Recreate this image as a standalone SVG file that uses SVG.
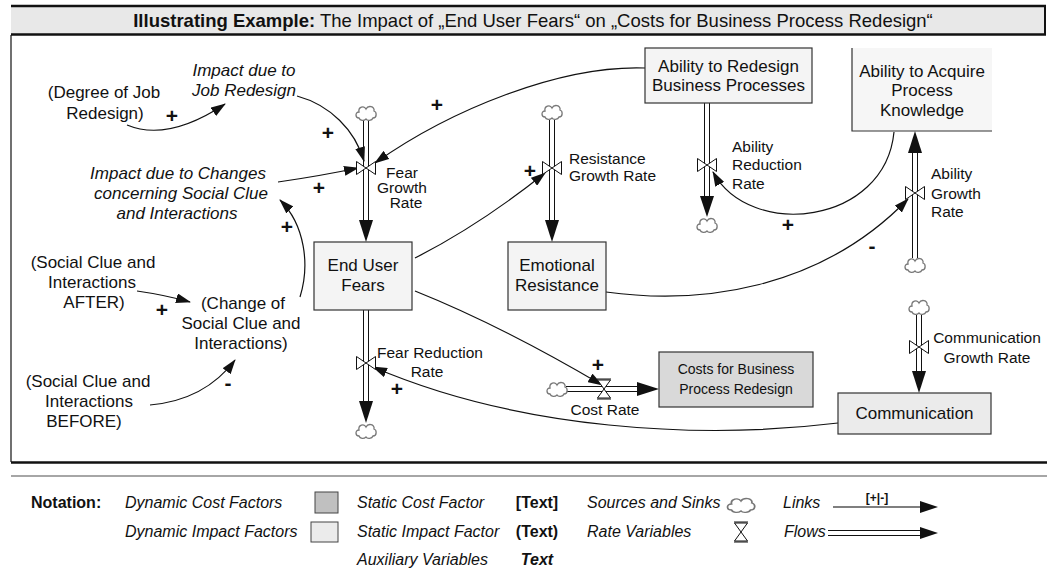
<svg xmlns="http://www.w3.org/2000/svg" width="1047" height="571" viewBox="0 0 1047 571">
<defs>
<style>
text{font-family:"Liberation Sans",Arial,sans-serif;fill:#111}
.lbl{font-size:17px}
.it{font-style:italic}
.rate{font-size:15.5px}
.leg{font-size:16px;font-style:italic}
.b{font-weight:bold}
.sign{font-size:21px;font-weight:bold;text-anchor:middle}
.mid{text-anchor:middle}
.stock{fill:#f4f4f4;stroke:#333;stroke-width:1.2}
.link{fill:none;stroke:#111;stroke-width:1.2;marker-end:url(#la)}
.pipeo{fill:none;stroke:#111;stroke-width:6}
.pipei{fill:none;stroke:#fff;stroke-width:4}
.cloud{fill:#fff;stroke:#777;stroke-width:1.3}
.valve{fill:#fff;stroke:#111;stroke-width:1}
</style>
<marker id="la" viewBox="0 0 15 10" refX="14" refY="5" markerWidth="15" markerHeight="10" markerUnits="userSpaceOnUse" orient="auto">
<path d="M0,0 L15,5 L0,10 z" fill="#111"/>
</marker>
<path id="cl" d="M-7,5 C-11,5 -11,-1 -7,-1 C-8,-6 -2,-8 0,-4 C2,-8 9,-7 8,-2 C11,-1 11,5 7,5 C6,8 1,8 0,6 C-2,8 -6,8 -7,5 Z"/>
<path id="vh" d="M-9.5,-6.5 L0,0 L-9.5,6.5 Z M9.5,-6.5 L0,0 L9.5,6.5 Z"/>
<path id="vv" d="M-6.5,-9 L6.5,-9 L0,0 Z M-6.5,9 L6.5,9 L0,0 Z M-7,-10 L7,-10 M-7,10 L7,10"/>
</defs>

<!-- frame -->
<g id="frame">
<rect x="11" y="6" width="1034" height="28" fill="#e8e8e8"/>
<line x1="11" y1="6" x2="1046" y2="6" stroke="#111" stroke-width="2.5"/>
<line x1="11" y1="34.5" x2="1046" y2="34.5" stroke="#111" stroke-width="2.5"/>
<line x1="1045" y1="6" x2="1045" y2="34" stroke="#111" stroke-width="2"/>
<line x1="11" y1="35" x2="11" y2="462" stroke="#111" stroke-width="1.2"/>
<line x1="11" y1="462.5" x2="1047" y2="462.5" stroke="#111" stroke-width="2.5"/>
<line x1="11" y1="476" x2="1047" y2="476" stroke="#888" stroke-width="1.5"/>
<text x="533" y="26.5" class="mid" font-size="18.5"><tspan font-weight="bold">Illustrating Example:</tspan> The Impact of „End User Fears“ on „Costs for Business Process Redesign“</text>
</g>

<!-- connectors -->
<g id="connectors">
<g id="flows">
<path class="pipeo" d="M366,120 V220"/><path class="pipei" d="M366,120 V220"/>
<polygon points="359,220 373,220 366,242" fill="#111"/>
<path class="pipeo" d="M552,120 V220"/><path class="pipei" d="M552,120 V220"/>
<polygon points="545,220 559,220 552,242" fill="#111"/>
<path class="pipeo" d="M707,103 V196"/><path class="pipei" d="M707,103 V196"/>
<polygon points="700,196 714,196 707,217" fill="#111"/>
<path class="pipeo" d="M915,258 V153"/><path class="pipei" d="M915,258 V153"/>
<polygon points="908,153 922,153 915,131" fill="#111"/>
<path class="pipeo" d="M919,315 V371"/><path class="pipei" d="M919,315 V371"/>
<polygon points="912,371 926,371 919,393" fill="#111"/>
<path class="pipeo" d="M366,310 V401"/><path class="pipei" d="M366,310 V401"/>
<polygon points="359,401 373,401 366,423" fill="#111"/>
<path class="pipeo" d="M566,389 H637"/><path class="pipei" d="M566,389 H637"/>
<polygon points="637,382 637,396 659,389" fill="#111"/>
</g>
<path class="link" d="M127,125 Q168,142 225,104"/>
<path class="link" d="M297,96 C330,105 355,130 364,161"/>
<path class="link" d="M278,182 Q320,176 358,168"/>
<path class="link" d="M645,68 C560,65 450,110 375,163"/>
<path class="link" d="M415,258 Q480,225 545,173"/>
<path class="link" d="M894,132 C885,225 750,240 713,172"/>
<path class="link" d="M606,292 C700,305 820,290 908,199"/>
<path class="link" d="M838,423 C700,440 520,430 373,367"/>
<path class="link" d="M415,291 Q500,325 602,385"/>
<path class="link" d="M137,291 Q165,295 190,302"/>
<path class="link" d="M150,405 Q205,400 235,360"/>
<path class="link" d="M300,297 C310,265 305,225 280,200"/>
</g>

<g id="clouds">
<use href="#cl" class="cloud" transform="translate(366,113)"/>
<use href="#cl" class="cloud" transform="translate(552,112)"/>
<use href="#cl" class="cloud" transform="translate(707,225)"/>
<use href="#cl" class="cloud" transform="translate(915,265)"/>
<use href="#cl" class="cloud" transform="translate(919,307)"/>
<use href="#cl" class="cloud" transform="translate(366,431)"/>
<use href="#cl" class="cloud" transform="translate(557,389)"/>
</g>

<g id="fear-growth-rate">
<use href="#vh" class="valve" transform="translate(366,168)"/>
<text class="rate mid" x="402" y="178">Fear</text>
<text class="rate mid" x="402" y="193">Growth</text>
<text class="rate mid" x="406" y="208">Rate</text>
</g>
<g id="resistance-growth-rate">
<use href="#vh" class="valve" transform="translate(552,168)"/>
<text class="rate" x="569" y="164">Resistance</text>
<text class="rate" x="569" y="181">Growth Rate</text>
</g>
<g id="ability-reduction-rate">
<use href="#vh" class="valve" transform="translate(707,165)"/>
<text class="rate" x="732" y="152">Ability</text>
<text class="rate" x="732" y="170">Reduction</text>
<text class="rate" x="732" y="189">Rate</text>
</g>
<g id="ability-growth-rate">
<use href="#vh" class="valve" transform="translate(915,193)"/>
<text class="rate" x="931" y="179">Ability</text>
<text class="rate" x="931" y="199">Growth</text>
<text class="rate" x="931" y="217">Rate</text>
</g>
<g id="communication-growth-rate">
<use href="#vh" class="valve" transform="translate(919,347)"/>
<text class="rate mid" x="987" y="343">Communication</text>
<text class="rate mid" x="987" y="363">Growth Rate</text>
</g>
<g id="fear-reduction-rate">
<use href="#vh" class="valve" transform="translate(366,363)"/>
<text class="rate mid" x="430" y="358">Fear Reduction</text>
<text class="rate mid" x="427" y="377">Rate</text>
</g>
<g id="cost-rate">
<use href="#vv" class="valve" transform="translate(604,389)"/>
<text class="rate mid" x="605" y="415">Cost Rate</text>
</g>

<g id="end-user-fears">
<rect class="stock" x="314" y="242" width="98" height="68"/>
<text class="lbl mid" x="363" y="271">End User</text>
<text class="lbl mid" x="363" y="291">Fears</text>
</g>
<g id="emotional-resistance">
<rect class="stock" x="508" y="242" width="98" height="68"/>
<text class="lbl mid" x="557" y="271">Emotional</text>
<text class="lbl mid" x="557" y="291">Resistance</text>
</g>
<g id="ability-redesign">
<rect class="stock" x="645" y="48" width="167" height="55"/>
<text class="lbl mid" x="728.5" y="72">Ability to Redesign</text>
<text class="lbl mid" x="728.5" y="91">Business Processes</text>
</g>
<g id="ability-acquire">
<rect x="852" y="48" width="140" height="83" fill="#f6f6f6"/>
<path d="M852,48 V131 H992" fill="none" stroke="#333" stroke-width="1.2"/>
<text class="lbl mid" x="922" y="77">Ability to Acquire</text>
<text class="lbl mid" x="922" y="96">Process</text>
<text class="lbl mid" x="922" y="116">Knowledge</text>
</g>
<g id="costs">
<rect x="659" y="352" width="154" height="55" fill="#d9d9d9" stroke="#333" stroke-width="1.2"/>
<text class="mid" font-size="14" x="736" y="374">Costs for Business</text>
<text class="mid" font-size="14" x="736" y="394">Process Redesign</text>
</g>
<g id="communication">
<rect x="838" y="393" width="153" height="41" fill="#ebebeb" stroke="#333" stroke-width="1.2"/>
<text class="lbl mid" x="914.5" y="419">Communication</text>
</g>

<g id="degree-job-redesign">
<text class="lbl mid" x="104" y="98">(Degree of Job</text>
<text class="lbl mid" x="105" y="119">Redesign)</text>
</g>
<g id="impact-job-redesign">
<text class="lbl it mid" x="244" y="76">Impact due to</text>
<text class="lbl it mid" x="244" y="96">Job Redesign</text>
</g>
<g id="impact-social">
<text class="lbl it mid" x="178" y="179">Impact due to Changes</text>
<text class="lbl it mid" x="181" y="199">concerning Social Clue</text>
<text class="lbl it mid" x="177" y="219">and Interactions</text>
</g>
<g id="social-after">
<text class="lbl mid" x="93" y="268">(Social Clue and</text>
<text class="lbl mid" x="92" y="288">Interactions</text>
<text class="lbl mid" x="94" y="308">AFTER)</text>
</g>
<g id="change-social">
<text class="lbl mid" x="243" y="309">(Change of</text>
<text class="lbl mid" x="241" y="329">Social Clue and</text>
<text class="lbl mid" x="241" y="349">Interactions)</text>
</g>
<g id="social-before">
<text class="lbl mid" x="88" y="387">(Social Clue and</text>
<text class="lbl mid" x="89" y="407">Interactions</text>
<text class="lbl mid" x="84" y="427">BEFORE)</text>
</g>

<g id="signs">
<text class="sign" x="172" y="123">+</text>
<text class="sign" x="328" y="140">+</text>
<text class="sign" x="319" y="195">+</text>
<text class="sign" x="287" y="234">+</text>
<text class="sign" x="437" y="112">+</text>
<text class="sign" x="530" y="178">+</text>
<text class="sign" x="788" y="232">+</text>
<text class="sign" x="162" y="317">+</text>
<text class="sign" x="397" y="396">+</text>
<text class="sign" x="598" y="372">+</text>
<text class="sign" x="228" y="390">-</text>
<text class="sign" x="872" y="253">-</text>
</g>

<g id="legend">
<text class="b" font-size="16" x="31" y="508">Notation:</text>
<text class="leg" x="125" y="508">Dynamic Cost Factors</text>
<rect x="315" y="492" width="23" height="21" fill="#c0c0c0" stroke="#444" stroke-width="1"/>
<text class="leg" x="357" y="508">Static Cost Factor</text>
<text class="b mid" font-size="16" x="537" y="508">[Text]</text>
<text class="leg" x="587" y="508">Sources and Sinks</text>
<use href="#cl" class="cloud" transform="translate(741,505) scale(1.35,1)" stroke="#333"/>
<text class="leg" x="783" y="508">Links</text>
<line x1="833" y1="507" x2="921" y2="507" stroke="#555" stroke-width="1.3"/>
<polygon points="920,501 938,507 920,513" fill="#111"/>
<text class="b mid" font-size="12" x="877" y="502">[+|-]</text>
<text class="leg" x="125" y="537">Dynamic Impact Factors</text>
<rect x="311" y="522" width="27" height="20" fill="#ebebeb" stroke="#444" stroke-width="1"/>
<text class="leg" x="357" y="537">Static Impact Factor</text>
<text class="b mid" font-size="16" x="537" y="537">(Text)</text>
<text class="leg" x="587" y="537">Rate Variables</text>
<use href="#vv" class="valve" transform="translate(741,532)"/>
<text class="leg" x="784" y="537">Flows</text>
<path class="pipeo" d="M828,533 H921" stroke-width="5"/><path class="pipei" d="M828,533 H921" stroke-width="3"/>
<polygon points="920,527 938,533 920,539" fill="#111"/>
<text class="leg" x="357" y="565">Auxiliary Variables</text>
<text class="b it mid" font-size="16" x="537" y="565">Text</text>
</g>
</svg>
